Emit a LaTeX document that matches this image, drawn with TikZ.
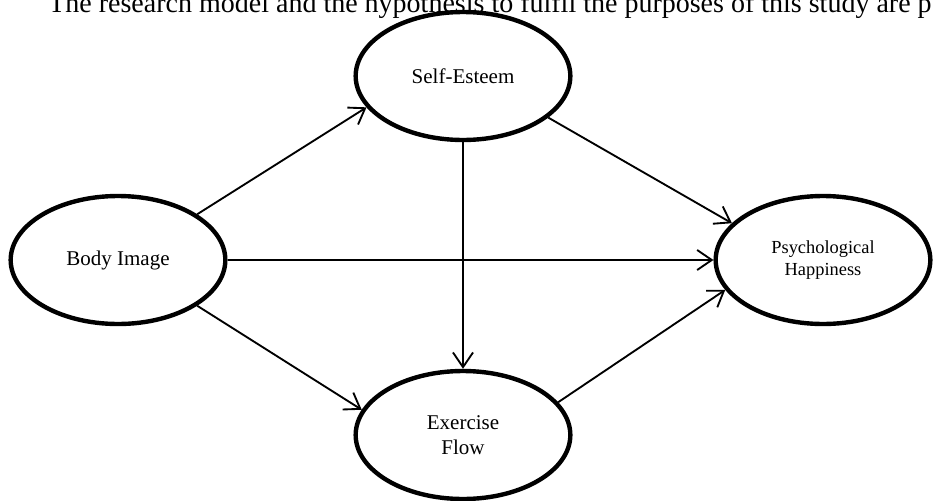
\documentclass[tikz,border=0pt]{standalone}
\usepackage{fontspec}
\setmainfont{Liberation Serif}
\usetikzlibrary{arrows.meta,shapes.geometric}

\begin{document}
\begin{tikzpicture}[x=0.75pt,y=0.75pt,yscale=-1,xscale=1,
    construct/.style={ellipse, draw, line width=3.3pt, minimum width=161pt, minimum height=96pt, inner sep=0pt, align=center, font=\fontsize{15.75}{18.5}\selectfont},
    path/.style={line width=1.4pt, -{Straight Barb[length=11pt,width=15pt,line width=1.4pt]}}]
%set diagram to 935 x 500
\useasboundingbox (0,0) rectangle (935,500);

% Text Node
\node (intro) [anchor=base west, inner sep=0pt, font=\fontsize{21}{24}\selectfont] at (48,12) {The research model and the hypothesis to fulfil the purposes of this study are p};

%Ellipses
\node (body) [construct] at (118,260) {Body Image};
\node (self) [construct] at (463,76) {Self-Esteem};
\node (exer) [construct] at (463,435) {Exercise\\Flow};
\node (psych) [construct, font=\fontsize{13.8}{16.5}\selectfont] at (823,260) {Psychological\\Happiness};

%Arrows
\draw [path] (body.30) -- (self.198);
\draw [path] (body.east) -- (psych.west);
\draw [path] (body.-30) -- (exer.166);
\draw [path] (self.-26) -- (psych.158);
\draw [path] (self.south) -- (exer.north);
\draw [path] (exer.19) -- (psych.197);

\end{tikzpicture}
\end{document}
